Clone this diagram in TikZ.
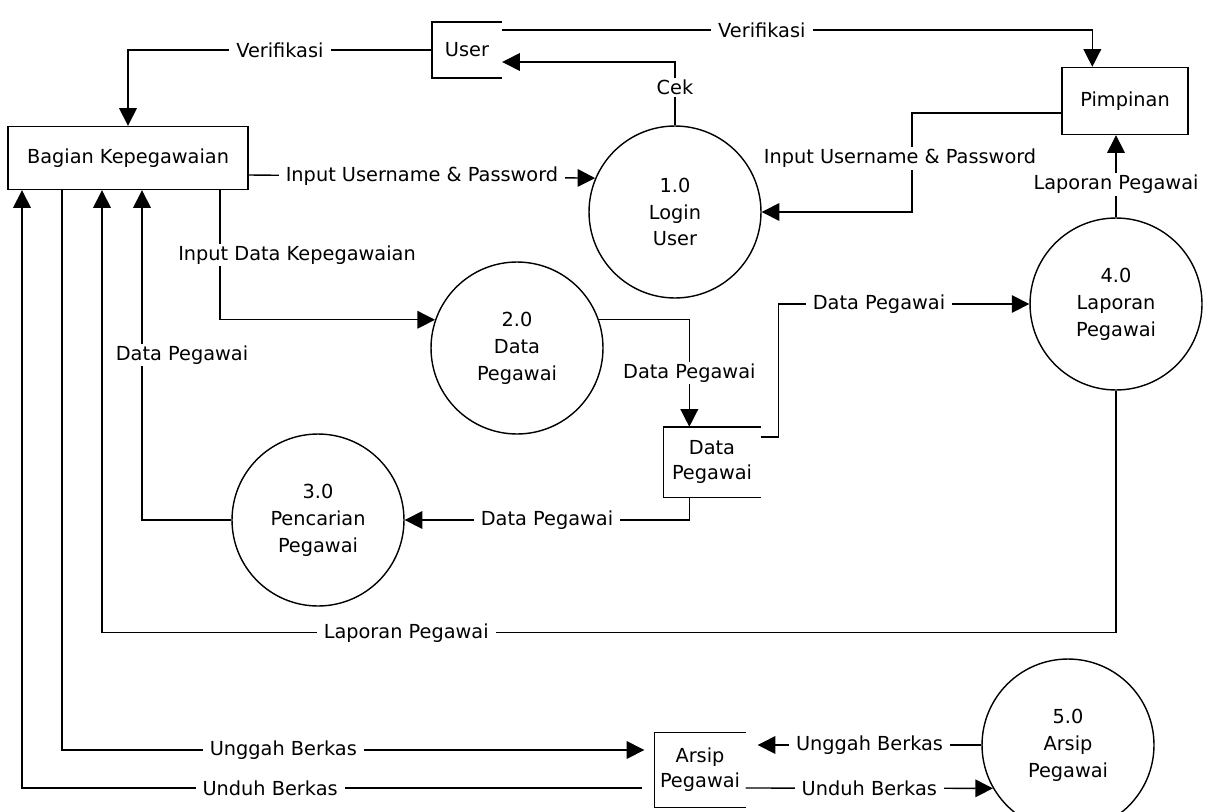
\documentclass[tikz,border=0pt]{standalone}
\usepackage{fontspec}
\setmainfont{DejaVu Sans}
\usetikzlibrary{arrows.meta,calc}
\tikzset{
  proses/.style={circle,draw,minimum size=3.44cm,inner sep=0pt,align=center,font=\fontsize{11}{15.3}\selectfont},
  entitas/.style={rectangle,draw,inner sep=0pt,align=center},
  simpan/.style={rectangle,inner sep=0pt,align=center,font=\fontsize{11}{14.2}\selectfont},
  alir/.style={-{Triangle[length=10pt,width=10pt]}},
  ket/.style={fill=white,inner xsep=4pt,inner ysep=1pt}
}
\begin{document}
\begin{tikzpicture}[x=0.02cm,y=-0.02cm,line width=0.8pt,font=\fontsize{11}{13}\selectfont]
\useasboundingbox (0,0) rectangle (1209,811);
\node[entitas,minimum width=4.8cm,minimum height=1.26cm] (bagian) at (128,158) {Bagian Kepegawaian};
\node[entitas,minimum width=2.52cm,minimum height=1.34cm] (pimpinan) at (1125,101) {Pimpinan};
\node[simpan,minimum width=1.38cm,minimum height=1.1cm] (user) at (467,50) {User};
\node[simpan,minimum width=1.92cm,minimum height=1.38cm] (dp) at (712,462) {Data\\Pegawai};
\node[simpan,minimum width=1.8cm,minimum height=1.48cm] (arsip) at (700,770) {Arsip\\Pegawai};
\draw (user.north east) -- (user.north west) -- (user.south west) -- (user.south east);
\draw (dp.north east) -- (dp.north west) -- (dp.south west) -- (dp.south east);
\draw (arsip.north east) -- (arsip.north west) -- (arsip.south west) -- (arsip.south east);
\node[proses] (p1) at (675,212) {1.0\\Login\\User};
\node[proses] (p2) at (517,348) {2.0\\Data\\Pegawai};
\node[proses] (p3) at (318,520) {3.0\\Pencarian\\Pegawai};
\node[proses] (p4) at (1116,304) {4.0\\Laporan\\Pegawai};
\node[proses] (p5) at (1068,745) {5.0\\Arsip\\Pegawai};
\coordinate (u1) at ($(user.east)+(0,-20)$);
\coordinate (u2) at ($(user.east)+(0,12)$);
\coordinate (pm1) at ($(pimpinan.north west)+(31,0)$);
\coordinate (pm2) at ($(pimpinan.west)+(0,12)$);
\coordinate (k1) at (912,113);
\coordinate (b1) at ($(bagian.east)+(0,17)$);
\coordinate (b2) at ($(bagian.south)+(92,0)$);
\coordinate (b3) at ($(bagian.south)+(14,0)$);
\coordinate (b4) at ($(bagian.south)+(-26,0)$);
\coordinate (b5) at ($(bagian.south)+(-66,0)$);
\coordinate (b6) at ($(bagian.south)+(-106,0)$);
\coordinate (d1) at ($(dp.east)+(0,-25)$);
\coordinate (dpin) at ($(dp.north west)+(26,0)$);
\coordinate (dpout) at ($(dp.south west)+(26,0)$);
\coordinate (lap) at ($(p4.south)+(0,242)$);
\coordinate (a1) at ($(arsip.west)+(-10,-20)$);
\coordinate (a2) at ($(arsip.west)+(-12,18)$);
\coordinate (a3) at ($(arsip.east)+(12,-25)$);
\coordinate (a4) at ($(arsip.east)+(0,18)$);
\draw[alir] (user.west) -| node[ket,pos=0.25] {Verifikasi} (bagian.north);
\draw[alir] (u1) -| node[ket,pos=0.22] {Verifikasi} (pm1);
\draw[alir] (p1.north) |- node[ket,pos=0.3] {Cek} (u2);
\draw[alir] (b1) -- node[ket] {Input Username \& Password} (p1.157);
\draw[alir] (pm2) -- (k1) |- node[ket,pos=0.23,xshift=-0.24cm] {Input Username \& Password} (p1.east);
\draw[alir] (p4.north) -- node[ket,pos=0.4] {Laporan Pegawai} (p4.north |- pimpinan.south);
\draw[alir] (d1) -- ++(18,0) |- node[ket,pos=0.7] {Data Pegawai} (p4.west);
\draw[alir] (b2) |- node[ket,pos=0.25,xshift=1.54cm] {Input Data Kepegawaian} (p2.161);
\draw[alir] (p2.19) -| node[ket,pos=0.75] {Data Pegawai} (dpin);
\draw[alir] (dpout) |- node[ket,pos=0.75] {Data Pegawai} (p3.east);
\draw[alir] (p3.west) -| node[ket,pos=0.75,xshift=0.8cm] {Data Pegawai} (b3);
\draw[alir] (p4.south) -- (lap) -| node[ket,pos=0.35] {Laporan Pegawai} (b4);
\draw[alir] (b5) |- node[ket,pos=0.69] {Unggah Berkas} (a1);
\draw[alir] (a2) -| node[ket,pos=0.3] {Unduh Berkas} (b6);
\draw[alir] (p5.west) -- node[ket] {Unggah Berkas} (a3);
\draw[alir] (a4) -- node[ket] {Unduh Berkas} (p5.210);
\end{tikzpicture}
\end{document}
